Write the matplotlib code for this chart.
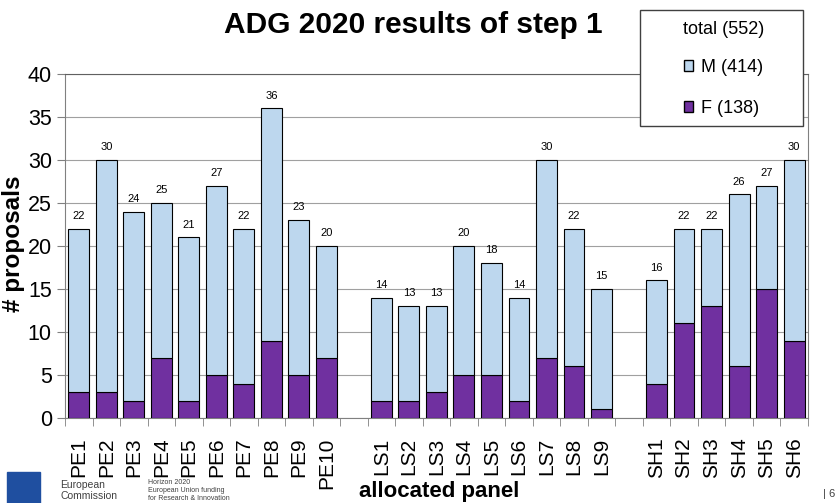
import matplotlib.pyplot as plt
from matplotlib.patches import Patch
import numpy as np

plt.rcParams['font.family'] = ['Liberation Sans', 'DejaVu Sans']

panels = ['PE1', 'PE2', 'PE3', 'PE4', 'PE5', 'PE6', 'PE7', 'PE8', 'PE9', 'PE10', '',
          'LS1', 'LS2', 'LS3', 'LS4', 'LS5', 'LS6', 'LS7', 'LS8', 'LS9', '',
          'SH1', 'SH2', 'SH3', 'SH4', 'SH5', 'SH6']
total = [22, 30, 24, 25, 21, 27, 22, 36, 23, 20, None,
         14, 13, 13, 20, 18, 14, 30, 22, 15, None,
         16, 22, 22, 26, 27, 30]
female = [3, 3, 2, 7, 2, 5, 4, 9, 5, 7, None,
          2, 2, 3, 5, 5, 2, 7, 6, 1, None,
          4, 11, 13, 6, 15, 9]

c_m = '#bdd7ee'
c_f = '#7030a0'

fig = plt.figure(figsize=(8.38, 5.03), dpi=100)
ax = fig.add_axes([0.0776, 0.169, 0.8864, 0.684])

for i, (t, f) in enumerate(zip(total, female)):
    if t is None:
        continue
    ax.bar(i, f, width=0.76, color=c_f, edgecolor='black', linewidth=0.8, zorder=3)
    ax.bar(i, t - f, bottom=f, width=0.76, color=c_m, edgecolor='black', linewidth=0.8, zorder=3)
    ax.text(i, t + 0.9, str(t), ha='center', va='bottom', fontsize=8)

ax.set_xlim(-0.5, len(panels) - 0.5)
ax.set_ylim(0, 40)
ax.set_yticks(np.arange(0, 41, 5))
ax.yaxis.grid(True, color='#a0a0a0', linewidth=0.8, zorder=0)
ax.set_xticks(range(len(panels)))
ax.set_xticklabels(panels, rotation=90, fontsize=15)
ax.tick_params(axis='x', which='major', length=0, pad=14)
ax.set_xticks(np.arange(-0.5, len(panels), 1), minor=True)
ax.tick_params(axis='x', which='minor', length=6, color='#808080')
ax.tick_params(axis='y', labelsize=15.5, length=6, color='#808080')
for s in ax.spines.values():
    s.set_color('#808080')
ax.spines['top'].set_color('#606060')

fig.text(0.016, 0.515, '# proposals', rotation=90, ha='center', va='center',
         fontsize=17.5, fontweight='bold')
fig.text(0.524, 0.022, 'allocated panel', ha='center', va='center', fontsize=16, fontweight='bold')
fig.text(0.493, 0.95, 'ADG 2020 results of step 1', ha='center', va='center', fontsize=21.5, fontweight='bold')

# legend box drawn as a figure rectangle, legend itself without frame
fig.patches.append(plt.Rectangle((0.764, 0.75), 0.194, 0.23, transform=fig.transFigure,
                                 facecolor='white', edgecolor='#404040', linewidth=1.0, zorder=9))
handles = [Patch(facecolor=c_m, edgecolor='black', label='M (414)'),
           Patch(facecolor=c_f, edgecolor='black', label='F (138)')]
leg = fig.legend(handles=handles, title='total (552)', loc='center',
                 bbox_to_anchor=(0.863, 0.863), frameon=False,
                 fontsize=13, title_fontsize=13, handlelength=0.55, handleheight=0.55,
                 handletextpad=0.4, labelspacing=1.3, borderpad=0)
leg._legend_box.sep = 15
leg.set_zorder(10)

# footer
fig.patches.append(plt.Rectangle((0.008, 0.0), 0.04, 0.062, transform=fig.transFigure, color='#1f4fa0'))
fig.text(0.072, 0.025, 'European\nCommission', fontsize=7.5, color='#404040', va='center')
fig.text(0.177, 0.025, 'Horizon 2020\nEuropean Union funding\nfor Research & Innovation', fontsize=5, color='#404040', va='center')
fig.text(0.982, 0.018, '| 6', fontsize=8, color='#404040', va='center')

plt.savefig('out.png', dpi=100)
